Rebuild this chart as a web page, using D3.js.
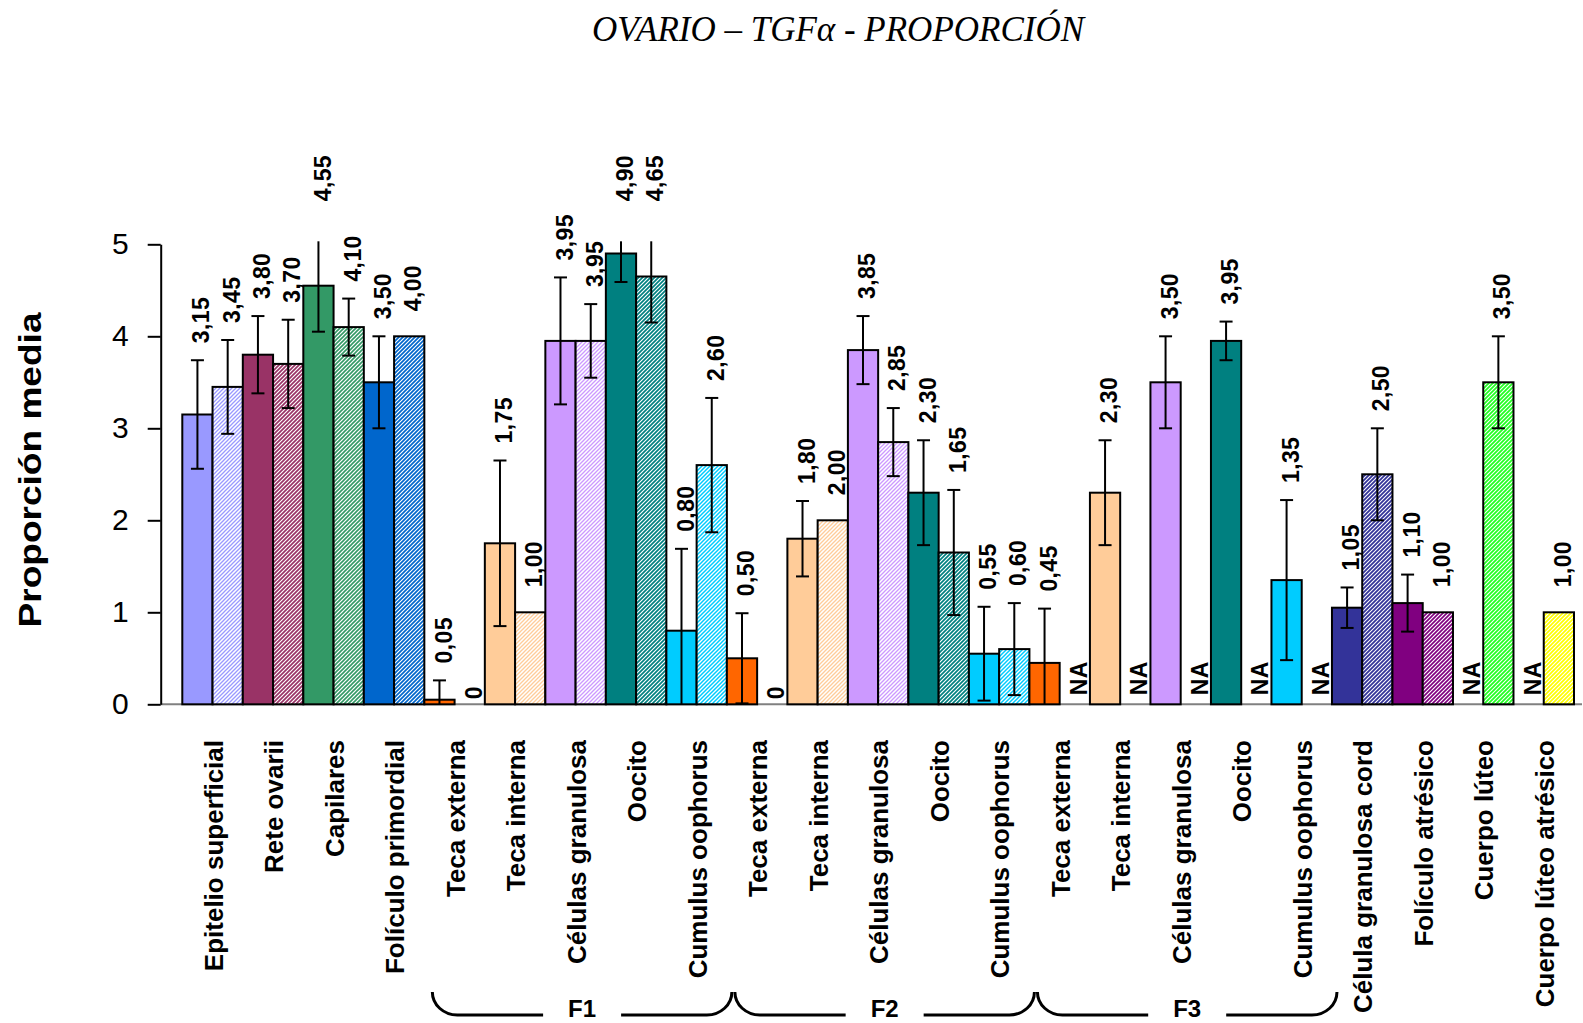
<!DOCTYPE html>
<html>
<head>
<meta charset="utf-8">
<script src="https://cdn.jsdelivr.net/npm/d3@7"></script>
<style>
  html, body { margin: 0; padding: 0; background: #ffffff; }
  svg { display: block; }
</style>
</head>
<body>
<script>
// Tissue compartments along the x axis (F1, F2, F3 repeat the follicle parts)
const categories = [
  "Epitelio superficial", "Rete ovarii", "Capilares", "Folículo primordial",
  "Teca externa", "Teca interna", "Células granulosa", "Oocito", "Cumulus oophorus",
  "Teca externa", "Teca interna", "Células granulosa", "Oocito", "Cumulus oophorus",
  "Teca externa", "Teca interna", "Células granulosa", "Oocito", "Cumulus oophorus",
  "Célula granulosa cord", "Folículo atrésico", "Cuerpo lúteo", "Cuerpo lúteo atrésico"
];

// Mean proportion, solid series (null = NA)
const solidValues = [
  3.15, 3.80, 4.55, 3.50,
  0.05, 1.75, 3.95, 4.90, 0.80,
  0.50, 1.80, 3.85, 2.30, 0.55,
  0.45, 2.30, 3.50, 3.95, 1.35,
  1.05, 1.10, null, null
];
// Error half-widths for the solid series
const solidErrors = [
  0.59, 0.42, 0.50, 0.50,
  0.21, 0.90, 0.69, 0.31, 0.89,
  0.49, 0.41, 0.37, 0.57, 0.51,
  0.59, 0.57, 0.50, 0.21, 0.87,
  0.22, 0.31, null, null
];

// Mean proportion, hatched series (null = NA)
const hatchedValues = [
  3.45, 3.70, 4.10, 4.00,
  0, 1.00, 3.95, 4.65, 2.60,
  0, 2.00, 2.85, 1.65, 0.60,
  null, null, null, null, null,
  2.50, 1.00, 3.50, 1.00
];
const hatchedErrors = [
  0.51, 0.48, 0.31, null,
  null, null, 0.40, 0.50, 0.73,
  null, null, 0.37, 0.68, 0.50,
  null, null, null, null, null,
  0.50, null, 0.50, null
];

const yTicks = [0, 1, 2, 3, 4, 5];

// Follicle stage brackets below the axis labels (category index ranges)
const stageGroups = [
  { label: "F1", from: 4, to: 8 },
  { label: "F2", from: 9, to: 13 },
  { label: "F3", from: 14, to: 18 }
];

// Fill colour of each compartment
const categoryColors = [
  "#9999FF", "#993366", "#339966", "#0066CC",
  "#FF6600", "#FFCC99", "#CC99FF", "#008080", "#00CCFF",
  "#FF6600", "#FFCC99", "#CC99FF", "#008080", "#00CCFF",
  "#FF6600", "#FFCC99", "#CC99FF", "#008080", "#00CCFF",
  "#333399", "#800080", "#22FF22", "#FFFF00"
];
// Line weight of the diagonal hatching per compartment
const hatchWeights = [
  1.3, 1.7, 1.6, 1.7,
  1.6, 1.3, 1.3, 1.7, 1.5,
  1.6, 1.3, 1.3, 1.7, 1.5,
  1.6, 1.3, 1.3, 1.7, 1.5,
  1.8, 1.7, 1.8, 1.7
];

const W = 1583, H = 1023;
const svg = d3.select("body").append("svg")
  .attr("width", W).attr("height", H)
  .attr("viewBox", `0 0 ${W} ${H}`);

const FONT = "'Liberation Sans', Arial, Helvetica, sans-serif";

// Scales
const x = d3.scaleBand().domain(d3.range(categories.length)).range([182.3, 1574]).padding(0);
const xs = d3.scaleBand().domain(["solid", "hatched"]).range([0, x.bandwidth()]).padding(0);
const y = d3.scaleLinear().domain([0, 5]).range([704.3, 244.3]);

// Hatch patterns
const defs = svg.append("defs");
categories.forEach((c, i) => {
  const p = defs.append("pattern")
    .attr("id", "hatch" + i)
    .attr("patternUnits", "userSpaceOnUse")
    .attr("width", 4).attr("height", 4);
  p.append("rect").attr("width", 4).attr("height", 4).attr("fill", "#ffffff");
  p.append("path")
    .attr("d", "M-1,1 l2,-2 M0,4 l4,-4 M3,5 l2,-2")
    .attr("stroke", categoryColors[i])
    .attr("stroke-width", hatchWeights[i]);
});

// Title
svg.append("text")
  .attr("x", 838).attr("y", 41)
  .attr("text-anchor", "middle")
  .attr("font-family", "'Liberation Serif', 'Times New Roman', serif")
  .attr("font-style", "italic")
  .attr("font-size", 35)
  .attr("fill", "#000")
  .text("OVARIO – TGFα - PROPORCIÓN");

// Y axis title
svg.append("text")
  .attr("transform", "translate(30,470) rotate(-90)")
  .attr("text-anchor", "middle")
  .attr("dy", "0.35em")
  .attr("font-family", FONT)
  .attr("font-weight", "bold")
  .attr("font-size", 31)
  .attr("textLength", 315)
  .attr("lengthAdjust", "spacingAndGlyphs")
  .text("Proporción media");

// X baseline (grey)
svg.append("line")
  .attr("x1", 160.7).attr("x2", 1582)
  .attr("y1", y(0)).attr("y2", y(0))
  .attr("stroke", "#808080").attr("stroke-width", 2);

// Y axis
const yAxis = svg.append("g")
  .attr("transform", "translate(160.7,0)")
  .call(d3.axisLeft(y).tickValues(yTicks).tickFormat(d3.format("d"))
    .tickSize(13).tickSizeOuter(0).tickPadding(19));
yAxis.select(".domain").attr("stroke", "#000").attr("stroke-width", 2);
yAxis.selectAll(".tick line").attr("stroke", "#000").attr("stroke-width", 2);
yAxis.selectAll(".tick text")
  .attr("font-family", FONT).attr("font-size", 30).attr("fill", "#000");

// Build bar records
const bars = [];
categories.forEach((c, i) => {
  bars.push({ i, key: "solid", value: solidValues[i], err: solidErrors[i] });
  bars.push({ i, key: "hatched", value: hatchedValues[i], err: hatchedErrors[i] });
});
const present = bars.filter(d => d.value !== null);

const barX = d => x(d.i) + xs(d.key);
const bw = xs.bandwidth();

// Bars
svg.append("g").selectAll("rect")
  .data(present)
  .join("rect")
  .attr("x", barX)
  .attr("y", d => y(d.value))
  .attr("width", bw)
  .attr("height", d => y(0) - y(d.value))
  .attr("fill", d => d.key === "solid" ? categoryColors[d.i] : `url(#hatch${d.i})`)
  .attr("stroke", "#000")
  .attr("stroke-width", 2);

// Error bars (clipped at the top of the plot area and at zero)
const clipTop = y(5) - 3;
const capHalf = 6.5;
const errG = svg.append("g").attr("stroke", "#000").attr("stroke-width", 2);
present.filter(d => d.err !== null && d.err !== undefined).forEach(d => {
  const cx = barX(d) + bw / 2;
  const hiRaw = y(d.value + d.err);
  const loRaw = y(d.value - d.err);
  const hi = Math.max(hiRaw, clipTop);
  const lo = Math.min(loRaw, y(0));
  errG.append("line").attr("x1", cx).attr("x2", cx).attr("y1", hi).attr("y2", lo);
  if (hiRaw >= clipTop) {
    errG.append("line").attr("x1", cx - capHalf).attr("x2", cx + capHalf).attr("y1", hi).attr("y2", hi);
  }
  if (loRaw <= y(0)) {
    errG.append("line").attr("x1", cx - capHalf).attr("x2", cx + capHalf).attr("y1", lo).attr("y2", lo);
  }
});

// Value labels
const fmt = v => v === 0 ? "0" : d3.format(".2f")(v).replace(".", ",");
const labelG = svg.append("g")
  .attr("font-family", FONT).attr("font-weight", "bold").attr("font-size", 23)
  .attr("letter-spacing", 0.4).attr("fill", "#000");
bars.forEach(d => {
  const cx = barX(d) + bw / 2 + 4;
  let ly, txt;
  if (d.value === null) {
    ly = y(0) - 9; txt = "NA";
  } else if (d.value === 0) {
    ly = y(0) - 5; txt = "0";
  } else {
    const hasErr = d.err !== null && d.err !== undefined;
    let top = y(d.value + (hasErr ? d.err : 0));
    let gap = hasErr ? 17 : 25;
    if (top < clipTop) { top = clipTop; gap = 40; }
    ly = top - gap; txt = fmt(d.value);
  }
  labelG.append("text")
    .attr("transform", `translate(${cx},${ly}) rotate(-90)`)
    .attr("dy", "0.35em")
    .attr("text-anchor", "start")
    .text(txt);
});

// Category labels
const catG = svg.append("g")
  .attr("font-family", FONT).attr("font-weight", "bold").attr("font-size", 26).attr("fill", "#000");
categories.forEach((c, i) => {
  catG.append("text")
    .attr("transform", `translate(${x(i) + x.bandwidth() / 2 + 1},740) rotate(-90)`)
    .attr("dy", "0.35em")
    .attr("text-anchor", "end")
    .text(c);
});

// Stage brackets
const braceTop = 992, braceBot = 1015, r = 25, ry = braceBot - braceTop, gapHalf = 39;
const braceG = svg.append("g");
stageGroups.forEach(g => {
  const x1 = x(g.from) + 8;
  const x2 = x(g.to) + x.bandwidth() + 5;
  const cx = (x1 + x2) / 2;
  const dStr =
    `M${x1},${braceTop} A${r},${ry} 0 0 0 ${x1 + r},${braceBot} L${cx - gapHalf},${braceBot} ` +
    `M${cx + gapHalf},${braceBot} L${x2 - r},${braceBot} A${r},${ry} 0 0 0 ${x2},${braceTop}`;
  braceG.append("path")
    .attr("d", dStr)
    .attr("fill", "none")
    .attr("stroke", "#000")
    .attr("stroke-width", 3);
  braceG.append("text")
    .attr("x", cx).attr("y", 1017)
    .attr("text-anchor", "middle")
    .attr("font-family", FONT).attr("font-weight", "bold").attr("font-size", 24)
    .text(g.label);
});
</script>
</body>
</html>
